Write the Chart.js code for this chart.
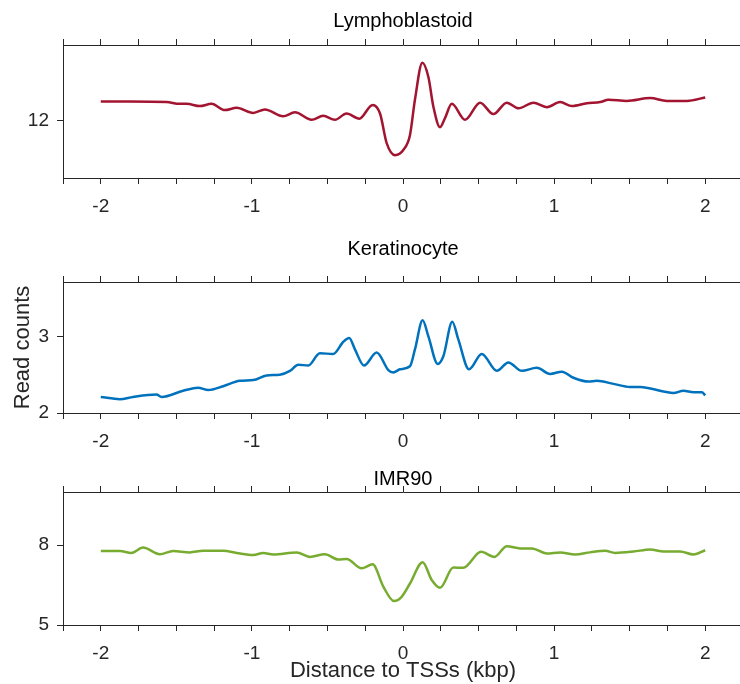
<!DOCTYPE html>
<html>
<head>
<meta charset="utf-8">
<script src="https://cdn.jsdelivr.net/npm/chart.js@4.4.1/dist/chart.umd.min.js"></script>
<style>
  html, body { margin: 0; padding: 0; background: #fff; overflow: hidden; width: 740px; height: 684px; }
  canvas { position: absolute; left: 0; }
</style>
</head>
<body>
<canvas id="lym" width="754" height="228" style="top:0px"></canvas>
<canvas id="ker" width="754" height="232" style="top:228px"></canvas>
<canvas id="imr" width="754" height="224" style="top:460px"></canvas>
<script>
// distance to TSS (kbp) tick positions, labels only on whole numbers
const xTicks = [-2.25, -2, -1.75, -1.5, -1.25, -1, -0.75, -0.5, -0.25, 0, 0.25, 0.5, 0.75, 1, 1.25, 1.5, 1.75, 2, 2.25];

// Lymphoblastoid
const lymX = [-2.0, -1.81, -1.565, -1.477, -1.432, -1.344, -1.267, -1.179, -1.101, -0.991, -0.914, -0.793, -0.715, -0.605, -0.528, -0.450, -0.373, -0.289, -0.201, -0.152, -0.108, -0.053, 0.002, 0.046, 0.079, 0.128, 0.168, 0.201, 0.245, 0.278, 0.323, 0.411, 0.510, 0.598, 0.687, 0.764, 0.863, 0.952, 1.040, 1.117, 1.217, 1.305, 1.36, 1.481, 1.636, 1.746, 1.879, 2.0];
const lymY = [12.34, 12.34, 12.33, 12.30, 12.30, 12.26, 12.30, 12.19, 12.23, 12.14, 12.20, 12.08, 12.15, 12.02, 12.09, 12.02, 12.13, 12.04, 12.28, 12.13, 11.61, 11.40, 11.49, 11.75, 12.37, 13.02, 12.77, 12.25, 11.89, 12.05, 12.30, 12.02, 12.32, 12.12, 12.32, 12.22, 12.32, 12.24, 12.33, 12.26, 12.31, 12.33, 12.37, 12.35, 12.40, 12.35, 12.35, 12.41];
const lymTicks = [12];

// Keratinocyte
const kerX = [-2.0, -1.874, -1.786, -1.631, -1.598, -1.455, -1.356, -1.289, -1.190, -1.079, -0.991, -0.903, -0.815, -0.748, -0.693, -0.627, -0.550, -0.462, -0.395, -0.356, -0.318, -0.258, -0.174, -0.097, -0.064, -0.020, 0.046, 0.079, 0.130, 0.168, 0.230, 0.267, 0.326, 0.366, 0.437, 0.521, 0.621, 0.697, 0.786, 0.885, 0.974, 1.051, 1.128, 1.227, 1.283, 1.393, 1.503, 1.570, 1.724, 1.790, 1.856, 1.923, 1.978, 2.0];
const kerY = [2.21, 2.18, 2.21, 2.24, 2.21, 2.29, 2.33, 2.30, 2.35, 2.42, 2.43, 2.49, 2.50, 2.55, 2.63, 2.62, 2.78, 2.77, 2.93, 2.98, 2.83, 2.62, 2.79, 2.56, 2.53, 2.57, 2.61, 2.83, 3.21, 3.00, 2.64, 2.74, 3.19, 2.96, 2.57, 2.77, 2.55, 2.66, 2.55, 2.59, 2.51, 2.54, 2.46, 2.41, 2.42, 2.38, 2.34, 2.34, 2.28, 2.26, 2.29, 2.27, 2.27, 2.23];
const kerTicks = [2, 3];

// IMR90
const imrX = [-2.0, -1.874, -1.797, -1.720, -1.609, -1.521, -1.411, -1.323, -1.190, -1.101, -0.991, -0.925, -0.859, -0.704, -0.616, -0.517, -0.428, -0.373, -0.274, -0.201, -0.130, -0.060, -0.009, 0.046, 0.130, 0.190, 0.245, 0.333, 0.399, 0.517, 0.605, 0.687, 0.775, 0.852, 0.952, 1.040, 1.139, 1.238, 1.338, 1.404, 1.525, 1.636, 1.724, 1.834, 1.923, 2.0];
const imrY = [7.78, 7.78, 7.71, 7.91, 7.66, 7.78, 7.73, 7.79, 7.79, 7.71, 7.63, 7.71, 7.65, 7.73, 7.56, 7.66, 7.46, 7.48, 7.13, 7.28, 6.44, 5.90, 6.06, 6.56, 7.36, 6.69, 6.40, 7.16, 7.15, 7.75, 7.56, 7.96, 7.88, 7.88, 7.69, 7.73, 7.65, 7.73, 7.79, 7.71, 7.76, 7.84, 7.76, 7.76, 7.65, 7.81];
const imrTicks = [5, 8];

const FONT = '"Liberation Sans", Arial, Helvetica, sans-serif';
const AXIS = '#262626';

Chart.defaults.font.family = FONT;
Chart.defaults.color = AXIS;

// title above each panel
const panelTitle = {
  id: 'panelTitle',
  afterDraw(chart, args, opts) {
    const ctx = chart.ctx;
    ctx.save();
    ctx.font = '20px ' + FONT;
    ctx.fillStyle = '#000';
    ctx.textAlign = 'center';
    ctx.textBaseline = 'alphabetic';
    ctx.fillText(opts.text, chart.scales.x.getPixelForValue(0), opts.y);
    ctx.restore();
  }
};

const gridOpts = { display: true, drawOnChartArea: false, drawTicks: true, tickLength: 6, color: AXIS, lineWidth: 1 };
const borderOpts = { display: true, color: AXIS, width: 1 };

function makePanel(id, xs, ys, color, yMin, yMax, yTicks, p) {
  const points = xs.map((x, i) => ({ x: x, y: ys[i] }));
  return new Chart(document.getElementById(id), {
    type: 'line',
    data: {
      datasets: [{
        data: points,
        borderColor: color,
        borderWidth: 2.5,
        pointRadius: 0,
        fill: false,
        cubicInterpolationMode: 'monotone'
      }]
    },
    plugins: [panelTitle],
    options: {
      responsive: false,
      animation: false,
      events: [],
      layout: { padding: 0 },
      plugins: {
        legend: { display: false },
        tooltip: { enabled: false },
        panelTitle: { text: p.title, y: p.titleY }
      },
      scales: {
        x: {
          type: 'linear',
          position: 'bottom',
          min: -2.25,
          max: 2.25,
          afterBuildTicks: s => { s.ticks = xTicks.map(v => ({ value: v })); },
          afterFit: s => { s.height = p.bottomH; },
          ticks: {
            autoSkip: false,
            maxRotation: 0,
            padding: 11,
            font: { size: 19 },
            color: AXIS,
            callback: v => Math.abs(v - Math.round(v)) < 1e-6 ? String(Math.round(v)) : ''
          },
          grid: gridOpts,
          border: borderOpts,
          title: {
            display: !!p.xTitle,
            text: p.xTitle || '',
            font: { size: 22 },
            color: AXIS,
            padding: { top: 0, bottom: 0 }
          }
        },
        xTop: {
          type: 'linear',
          position: 'top',
          min: -2.25,
          max: 2.25,
          afterBuildTicks: s => { s.ticks = xTicks.map(v => ({ value: v })); },
          afterFit: s => { s.height = p.topH; },
          ticks: { autoSkip: false, maxRotation: 0, callback: () => '' },
          grid: gridOpts,
          border: borderOpts
        },
        y: {
          type: 'linear',
          position: 'left',
          min: yMin,
          max: yMax,
          afterBuildTicks: s => { s.ticks = yTicks.map(v => ({ value: v })); },
          afterFit: s => { s.width = 63; },
          ticks: { padding: 8, font: { size: 19 }, color: AXIS },
          grid: gridOpts,
          border: borderOpts,
          title: {
            display: !!p.yTitle,
            text: p.yTitle || '',
            font: { size: 22 },
            color: AXIS,
            padding: { top: 10, bottom: 0 }
          }
        }
      }
    }
  });
}

makePanel('lym', lymX, lymY, '#A2142F', 11, 13.33, lymTicks,
  { title: 'Lymphoblastoid', titleY: 27, topH: 45, bottomH: 50 });
makePanel('ker', kerX, kerY, '#0072BD', 2, 3.71, kerTicks,
  { title: 'Keratinocyte', titleY: 27, topH: 54, bottomH: 47, yTitle: 'Read counts' });
makePanel('imr', imrX, imrY, '#77AC30', 5, 10, imrTicks,
  { title: 'IMR90', titleY: 25, topH: 32, bottomH: 59, xTitle: 'Distance to TSSs (kbp)' });
</script>
</body>
</html>
